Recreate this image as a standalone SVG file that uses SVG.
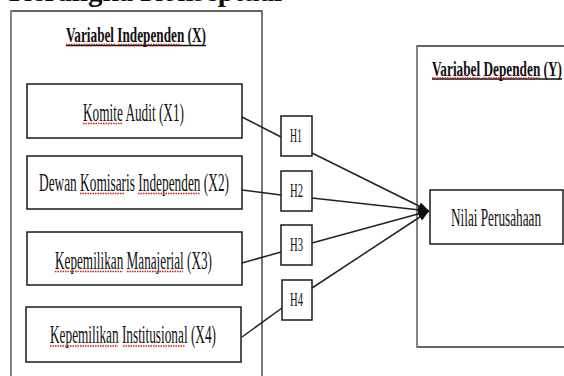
<svg xmlns="http://www.w3.org/2000/svg" width="564" height="376" viewBox="0 0 564 376">
<style>
text{font-family:"Liberation Serif","Times New Roman",serif;fill:#111}
.t{font-size:25px;text-anchor:start}
.h{font-weight:bold;font-size:22px}
.hb{font-size:19px}
.box{fill:#fff;stroke:#1a1a1a;stroke-width:1.5}
.ul{stroke:#111;stroke-width:1.6}
.sq{stroke:#d21a1a;stroke-width:1.3;stroke-dasharray:1.5 1;fill:none}
.c{stroke:#222;stroke-width:1.5;fill:none}
</style>
<defs>
<marker id="ah" markerUnits="userSpaceOnUse" markerWidth="12" markerHeight="10" refX="11" refY="5" orient="auto">
<path d="M0,1 L11,5 L0,9 Z" fill="#111"/>
</marker>
</defs>
<rect width="564" height="376" fill="#fff"/>
<text x="9" y="1" style="font-weight:bold;font-size:29px">Kerangka Konseptual</text>

<g id="independen">
<path d="M11,380 V11 H262 V380" fill="none" stroke="#333" stroke-width="1.3"/>
<line x1="11" y1="11" x2="11" y2="380" stroke="#888" stroke-width="1.5"/>
<text class="h" x="66" y="42" textLength="140" lengthAdjust="spacingAndGlyphs">Variabel Independen (X)</text>
<line class="ul" x1="66" y1="45.5" x2="206" y2="45.5"/>
<path class="sq" d="M66,44.5 H115 M118,44.5 H180"/>
</g>

<g id="x1">
<rect class="box" x="27" y="84" width="215" height="54"/>
<text class="t" x="83" y="121" textLength="101" lengthAdjust="spacingAndGlyphs">Komite Audit (X1)</text>
<path class="sq" d="M83,123.5 H123"/>
</g>
<g id="x2">
<rect class="box" x="27" y="156" width="215" height="53"/>
<text class="t" x="39" y="191" textLength="190" lengthAdjust="spacingAndGlyphs">Dewan Komisaris Independen (X2)</text>
<path class="sq" d="M80,193.5 H125 M138,193.5 H200"/>
</g>
<g id="x3">
<rect class="box" x="27" y="232" width="215" height="53"/>
<text class="t" x="55" y="269" textLength="157" lengthAdjust="spacingAndGlyphs">Kepemilikan Manajerial (X3)</text>
<path class="sq" d="M55,271.5 H123 M127,271.5 H183"/>
</g>
<g id="x4">
<rect class="box" x="26" y="307" width="215" height="55"/>
<text class="t" x="50" y="343" textLength="166" lengthAdjust="spacingAndGlyphs">Kepemilikan Institusional (X4)</text>
<path class="sq" d="M50,346 H118 M123,346 H185"/>
</g>

<g id="h1"><rect class="box" x="281" y="116" width="31" height="40"/><text class="hb" x="290" y="142" textLength="12" lengthAdjust="spacingAndGlyphs">H1</text></g>
<g id="h2"><rect class="box" x="281" y="171" width="31" height="40"/><text class="hb" x="290" y="197" textLength="13" lengthAdjust="spacingAndGlyphs">H2</text></g>
<g id="h3"><rect class="box" x="281" y="225" width="31" height="40"/><text class="hb" x="290" y="251" textLength="13" lengthAdjust="spacingAndGlyphs">H3</text></g>
<g id="h4"><rect class="box" x="282" y="280" width="30" height="40"/><text class="hb" x="290" y="306" textLength="13" lengthAdjust="spacingAndGlyphs">H4</text></g>

<g id="dependen">
<path d="M570,46 H417 V347 H570" fill="none" stroke="#333" stroke-width="1.3"/>
<line x1="417" y1="46" x2="417" y2="347" stroke="#888" stroke-width="1.5"/>
<text class="h" x="432" y="76" textLength="130" lengthAdjust="spacingAndGlyphs" style="font-size:21px">Variabel Dependen (Y)</text>
<line class="ul" x1="432" y1="79" x2="562" y2="79"/>
<path class="sq" d="M432,78 H480 M483,78 H540"/>
</g>
<g id="y">
<rect class="box" x="430" y="190" width="133" height="54"/>
<text class="t" x="451" y="226" textLength="90" lengthAdjust="spacingAndGlyphs">Nilai Perusahaan</text>
</g>

<g id="connectors">
<line class="c" x1="242" y1="117" x2="281" y2="137"/>
<line class="c" x1="242" y1="190" x2="281" y2="195"/>
<line class="c" x1="242" y1="263" x2="281" y2="252"/>
<line class="c" x1="242" y1="337" x2="282" y2="308"/>
<line class="c" x1="312" y1="153" x2="429" y2="211" marker-end="url(#ah)"/>
<line class="c" x1="312" y1="198" x2="429" y2="211" marker-end="url(#ah)"/>
<line class="c" x1="312" y1="243" x2="429" y2="211" marker-end="url(#ah)"/>
<line class="c" x1="312" y1="288" x2="429" y2="211" marker-end="url(#ah)"/>
</g>
</svg>
